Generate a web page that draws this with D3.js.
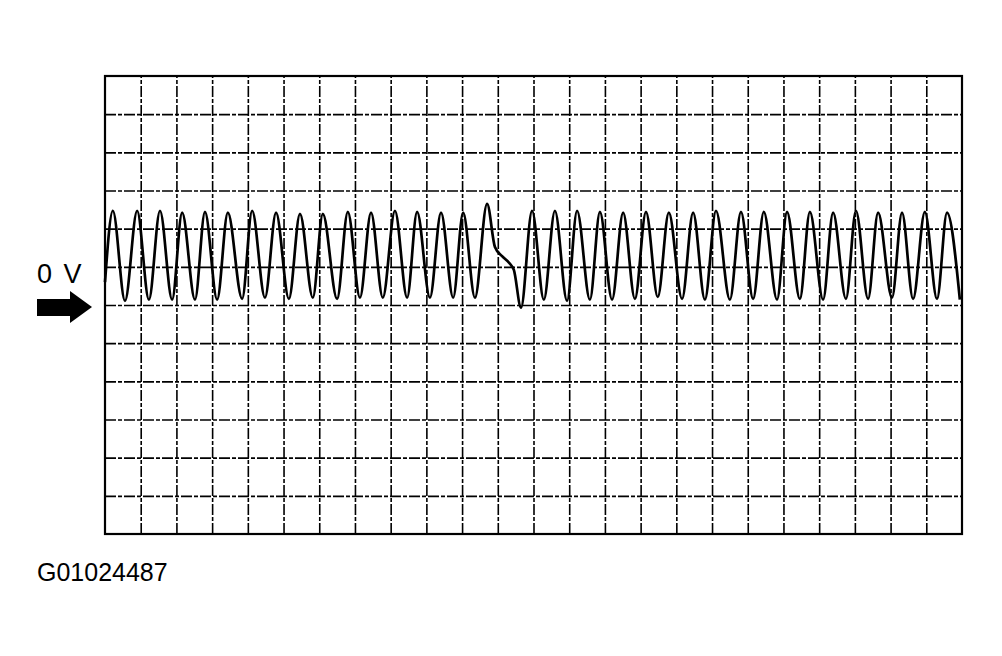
<!DOCTYPE html>
<html>
<head>
<meta charset="utf-8">
<script src="https://cdn.jsdelivr.net/npm/d3@7"></script>
<style>
  html, body { margin: 0; padding: 0; background: #fff; }
  svg { display: block; }
  .grid line { stroke: #000; stroke-width: 1.6; stroke-dasharray: 11 2 4 2; }
  .grid .domain { display: none; }
</style>
</head>
<body>
<div id="chart"></div>
<script>
// Scope trace: time and level in grid divisions, 0 V at the middle line

// Peaks of the waveform
const peakTimes = [0.22, 0.90, 1.54, 2.16, 2.80, 3.44, 4.12, 4.79, 5.46, 6.10, 6.80, 7.45,
  8.12, 8.74, 9.41, 10.03, 10.70, 11.96, 12.60, 13.22, 13.86, 14.51, 15.15, 15.79,
  16.47, 17.11, 17.81, 18.45, 19.10, 19.74, 20.39, 21.03, 21.65, 22.32, 22.96, 23.58];
const peakLevels = [2.47, 2.47, 2.47, 2.42, 2.44, 2.42, 2.47, 2.42, 2.39, 2.39, 2.44, 2.42,
  2.47, 2.44, 2.42, 2.42, 2.65, 2.47, 2.47, 2.47, 2.44, 2.42, 2.44, 2.42,
  2.42, 2.47, 2.44, 2.44, 2.44, 2.44, 2.42, 2.47, 2.42, 2.42, 2.44, 2.42];

// Troughs of the waveform
const troughTimes = [0.56, 1.23, 1.88, 2.52, 3.14, 3.84, 4.48, 5.15, 5.82, 6.50, 7.14, 7.78,
  8.46, 9.10, 9.75, 10.36, 11.65, 12.29, 12.94, 13.58, 14.20, 14.84, 15.48, 16.16,
  16.80, 17.50, 18.15, 18.82, 19.46, 20.11, 20.75, 21.37, 22.04, 22.63, 23.30, 23.94];
const troughLevels = [0.11, 0.14, 0.14, 0.14, 0.14, 0.16, 0.19, 0.16, 0.19, 0.16, 0.19, 0.19,
  0.19, 0.19, 0.19, 0.19, -0.07, 0.14, 0.11, 0.14, 0.14, 0.16, 0.21, 0.16,
  0.14, 0.14, 0.16, 0.14, 0.16, 0.14, 0.16, 0.16, 0.19, 0.16, 0.16, 0.14];

// Start of trace and the flat shoulder of the missing-tooth cycle
const extraTimes = [0.0, 10.92, 11.12, 11.34, 11.45];
const extraLevels = [0.60, 1.52, 1.28, 1.08, 0.92];

const xDivs = 24;
const yDivs = 12;
const zeroLabel = '0 V';
const figureId = 'G01024487';

const W = 1002, H = 656;
const gLeft = 105, gRight = 962, gTop = 76, gBottom = 534;

const svg = d3.select('#chart').append('svg')
  .attr('width', W)
  .attr('height', H);

const x = d3.scaleLinear().domain([0, xDivs]).range([gLeft, gRight]);
const y = d3.scaleLinear().domain([-yDivs / 2, yDivs / 2]).range([gBottom, gTop]);

// Grid, drawn with axes whose ticks span the whole screen
svg.append('g')
  .attr('class', 'grid')
  .attr('transform', `translate(0,${gBottom})`)
  .call(d3.axisBottom(x).tickValues(d3.range(1, xDivs)).tickSize(-(gBottom - gTop)).tickFormat(''));

svg.append('g')
  .attr('class', 'grid')
  .attr('transform', `translate(${gLeft},0)`)
  .call(d3.axisLeft(y).tickValues(d3.range(-yDivs / 2 + 1, yDivs / 2)).tickSize(-(gRight - gLeft)).tickFormat(''));

// Screen border
svg.append('rect')
  .attr('x', x(0))
  .attr('y', y(yDivs / 2))
  .attr('width', x(xDivs) - x(0))
  .attr('height', y(-yDivs / 2) - y(yDivs / 2))
  .attr('fill', 'none')
  .attr('stroke', '#000')
  .attr('stroke-width', 2.2);

// Trace
const points = [];
peakTimes.forEach((t, i) => points.push({ t, v: peakLevels[i] }));
troughTimes.forEach((t, i) => points.push({ t, v: troughLevels[i] }));
extraTimes.forEach((t, i) => points.push({ t, v: extraLevels[i] }));
points.sort((a, b) => a.t - b.t);

const line = d3.line()
  .x(d => x(d.t))
  .y(d => y(d.v))
  .curve(d3.curveMonotoneX);

svg.append('path')
  .datum(points)
  .attr('d', line)
  .attr('fill', 'none')
  .attr('stroke', '#000')
  .attr('stroke-width', 2.7)
  .attr('stroke-linejoin', 'round');

// 0 V marker
svg.append('text')
  .attr('x', 37)
  .attr('y', y(0) - 22)
  .attr('font-family', '"Liberation Sans", Arial, sans-serif')
  .attr('font-size', 27)
  .attr('letter-spacing', 2)
  .attr('fill', '#000')
  .text(zeroLabel);

const ay = y(0) + 2;
svg.append('path')
  .attr('d', `M37,${ay - 8} L70,${ay - 8} L70,${ay - 16} L92,${ay} L70,${ay + 16} L70,${ay + 9} L37,${ay + 9} Z`)
  .attr('fill', '#000');

// Figure number
svg.append('text')
  .attr('x', 37)
  .attr('y', 581)
  .attr('font-family', '"Liberation Sans", Arial, sans-serif')
  .attr('font-size', 25)
  .attr('fill', '#000')
  .text(figureId);
</script>
</body>
</html>
